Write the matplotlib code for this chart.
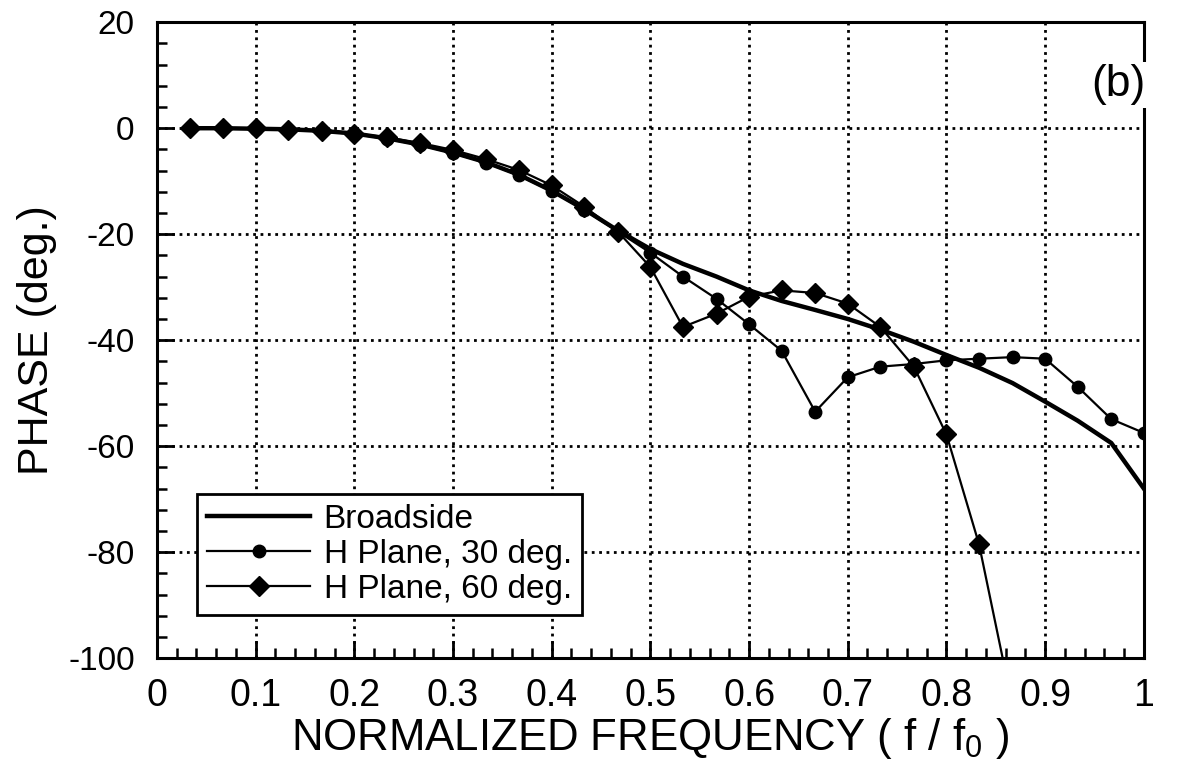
import numpy as np
import matplotlib
matplotlib.use('Agg')
import matplotlib.pyplot as plt
from matplotlib.ticker import MultipleLocator

plt.rcParams['font.family'] = ['Liberation Sans', 'DejaVu Sans']
plt.rcParams['mathtext.fontset'] = 'custom'
plt.rcParams['mathtext.rm'] = 'Liberation Sans'
plt.rcParams['mathtext.it'] = 'Liberation Sans'
plt.rcParams['axes.unicode_minus'] = False

# normalized frequency samples
freq = [0.033, 0.067, 0.100, 0.133, 0.167, 0.200, 0.233, 0.267, 0.300, 0.333,
        0.367, 0.400, 0.433, 0.467, 0.500, 0.533, 0.567, 0.600, 0.633, 0.667,
        0.700, 0.733, 0.767, 0.800, 0.833, 0.867, 0.900, 0.933, 0.967, 1.000]

broadside = [0, 0, -0.1, -0.2, -0.5, -1.0, -1.9, -3.1, -4.6, -6.4,
             -8.8, -11.8, -15.3, -19.3, -22.8, -25.6, -28.0, -30.6, -32.6, -34.3,
             -36.0, -38.0, -40.3, -42.8, -45.2, -48.1, -51.6, -55.2, -59.4, -68.0]

h30 = [0, 0, -0.1, -0.3, -0.6, -1.1, -2.0, -3.2, -4.7, -6.5,
       -8.9, -11.9, -15.4, -19.5, -23.5, -28.0, -32.2, -37.0, -42.0, -53.5,
       -47.0, -45.0, -44.5, -43.8, -43.5, -43.2, -43.5, -48.8, -54.9, -57.5]

h60 = [0, 0, 0, -0.3, -0.5, -1.0, -1.7, -2.8, -4.1, -5.8,
       -7.9, -10.8, -14.8, -19.5, -26.2, -37.5, -35.0, -31.8, -30.6, -31.1,
       -33.1, -37.5, -45.0, -57.8, -78.5, -109.0]

labels = ['Broadside', 'H Plane, 30 deg.', 'H Plane, 60 deg.']
xtl = ['0', '0.1', '0.2', '0.3', '0.4', '0.5', '0.6', '0.7', '0.8', '0.9', '1']

fig = plt.figure(figsize=(11.89, 7.67), dpi=100)
ax = fig.add_axes([0.132, 0.142, 0.830, 0.829])

ax.plot(freq, broadside, c='k', lw=3.2, label=labels[0], zorder=4)
ax.plot(freq, h30, c='k', lw=1.6, marker='o', ms=9, label=labels[1], zorder=3)
ax.plot(freq[:len(h60)], h60, c='k', lw=1.6, marker='D', ms=10, label=labels[2], zorder=3)

ax.set_xlim(0, 1)
ax.set_ylim(-100, 20)
ax.xaxis.set_minor_locator(MultipleLocator(0.02))
ax.yaxis.set_major_locator(MultipleLocator(20))
ax.yaxis.set_minor_locator(MultipleLocator(4))
ax.set_xticks(np.arange(0, 1.01, 0.1))
ax.set_xticklabels(xtl)

ax.grid(True, which='major', ls=':', c='k', lw=2)
ax.tick_params(axis='both', which='major', direction='in', length=12, width=2,
               top=False, right=False)
ax.tick_params(axis='both', which='minor', direction='in', length=7, width=1.8,
               top=False, right=False)
ax.tick_params(axis='x', pad=14, labelsize=27)
ax.tick_params(axis='y', pad=16, labelsize=24)
for sp in ax.spines.values():
    sp.set_linewidth(2.2)

ax.set_xlabel('NORMALIZED FREQUENCY ( f / f$_0$ )', fontsize=31.5, labelpad=2)
ax.set_ylabel('PHASE (deg.)', fontsize=31, labelpad=8)

ax.text(0.974, 8.2, '(b)', fontsize=32, ha='center', va='center', zorder=10, clip_on=False,
        bbox=dict(facecolor='white', edgecolor='none', pad=2))

leg = ax.legend(loc='lower left', bbox_to_anchor=(0.0405, 0.0676), borderaxespad=0,
                fontsize=24, handlelength=3.1, numpoints=1, fancybox=False,
                framealpha=1, edgecolor='k', labelspacing=0.12, handletextpad=0.4,
                borderpad=0.3)
leg.get_frame().set_linewidth(2)

plt.savefig('out.png', dpi=100)
plt.close()
